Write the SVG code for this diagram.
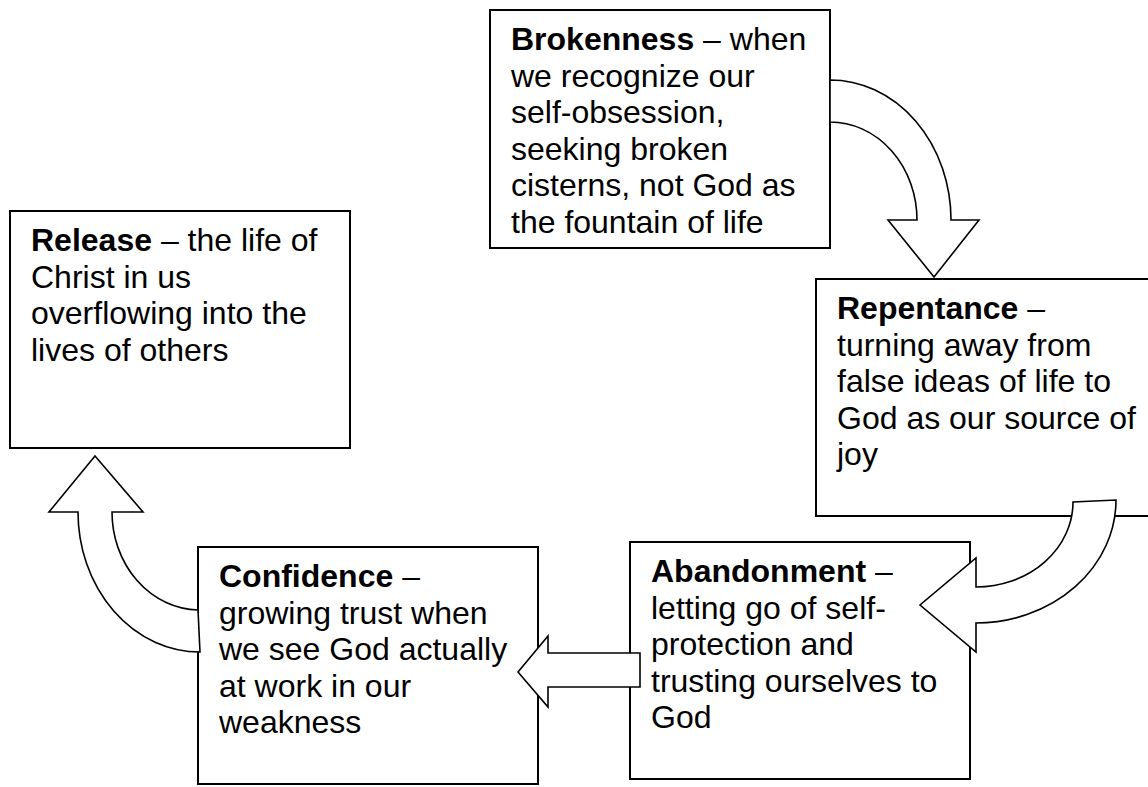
<svg xmlns="http://www.w3.org/2000/svg" width="1148" height="787" viewBox="0 0 1148 787">
<style>
.box{fill:#fff;stroke:#000;stroke-width:2}
.arr{fill:#fff;stroke:#000;stroke-width:1.6;stroke-linejoin:miter}
text{font-family:"Liberation Sans",Arial,sans-serif;font-size:32px;fill:#000}
.b{font-weight:bold}
</style>
<rect width="1148" height="787" fill="#fff"/>
<g id="brokenness">
<rect class="box" x="490" y="10" width="340" height="238"/>
<text x="511" y="50"><tspan class="b">Brokenness</tspan> – when</text>
<text x="511" y="86.5">we recognize our</text>
<text x="511" y="123">self-obsession,</text>
<text x="511" y="159.5">seeking broken</text>
<text x="511" y="196">cisterns, not God as</text>
<text x="511" y="232.5">the fountain of life</text>
</g>
<g id="repentance">
<rect class="box" x="816" y="279" width="340" height="237"/>
<text x="837" y="319"><tspan class="b">Repentance</tspan> –</text>
<text x="837" y="355.5">turning away from</text>
<text x="837" y="392">false ideas of life to</text>
<text x="837" y="428.5">God as our source of</text>
<text x="837" y="465">joy</text>
</g>
<g id="abandonment">
<rect class="box" x="630" y="542" width="340" height="237"/>
<text x="651" y="582"><tspan class="b">Abandonment</tspan> –</text>
<text x="651" y="618.5">letting go of self-</text>
<text x="651" y="655">protection and</text>
<text x="651" y="691.5">trusting ourselves to</text>
<text x="651" y="728">God</text>
</g>
<g id="confidence">
<rect class="box" x="198" y="547" width="340" height="237"/>
<text x="219" y="587"><tspan class="b">Confidence</tspan> –</text>
<text x="219" y="623.5">growing trust when</text>
<text x="219" y="660">we see God actually</text>
<text x="219" y="696.5">at work in our</text>
<text x="219" y="733">weakness</text>
</g>
<g id="release">
<rect class="box" x="10" y="211" width="340" height="237"/>
<text x="31" y="251"><tspan class="b">Release</tspan> – the life of</text>
<text x="31" y="287.5">Christ in us</text>
<text x="31" y="324">overflowing into the</text>
<text x="31" y="360.5">lives of others</text>
</g>
<g id="connectors">
<path class="arr" d="M830,80 A121,140 0 0 1 951,220 L979,220 L934,277 L888,220 L917,220 A87,98 0 0 0 830,122 Z"/>
<path class="arr" d="M1073,502 A97,85 0 0 1 976,587 L976,558 L920,605 L976,652 L976,623 A140,123 0 0 0 1116,500 Z"/>
<path class="arr" d="M640,653 L548,653 L548,636 L518,672 L548,707 L548,687 L640,687 Z"/>
<path class="arr" d="M200,652 A122,140 0 0 1 78,512 L49,512 L95,456 L143,512 L112,512 A88,98 0 0 0 198,610 Z"/>
</g>
</svg>
